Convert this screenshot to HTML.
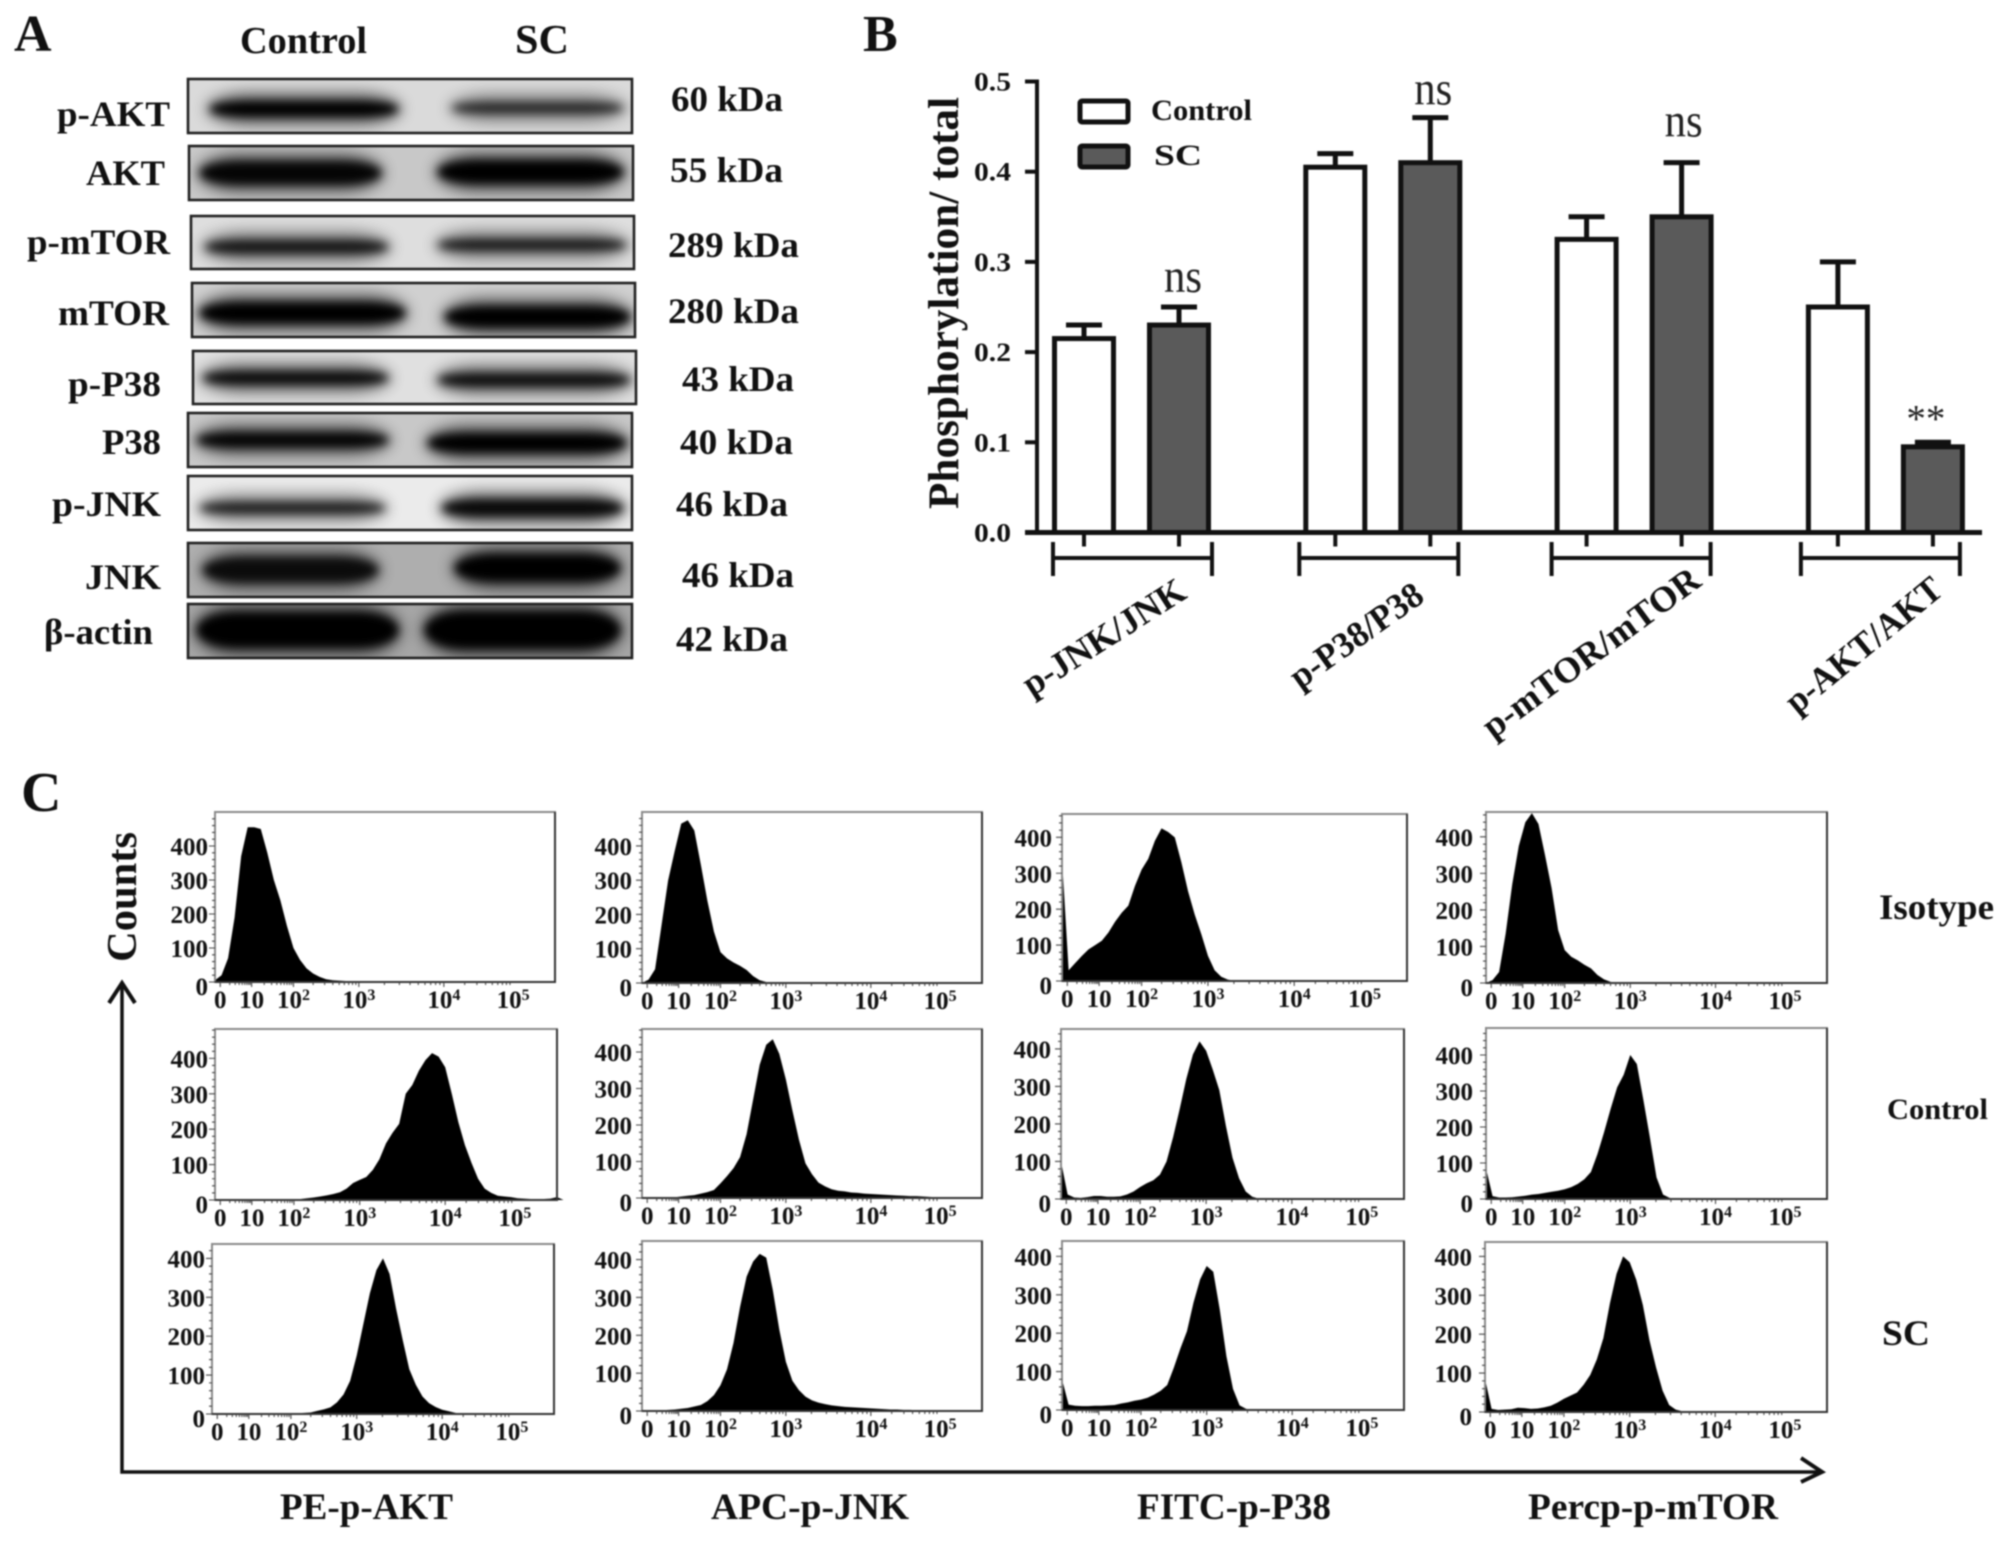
<!DOCTYPE html>
<html lang="en">
<head>
<meta charset="utf-8">
<title>Western blot, phosphorylation bars and flow cytometry</title>
<style>
html,body{margin:0;padding:0;background:#fff;width:2008px;height:1542px;overflow:hidden}
svg{display:block;filter:blur(.7px)}
text{font-family:"Liberation Serif",serif;font-weight:bold;fill:#111}
.ns{font-weight:normal;fill:#222}
</style>
</head>
<body>
<svg id="fig" xmlns="http://www.w3.org/2000/svg" width="2008" height="1542" viewBox="0 0 2008 1542">
<defs>
<filter id="blurCore" x="-20%" y="-150%" width="140%" height="400%"><feGaussianBlur stdDeviation="4.5"/></filter>
<filter id="blurHalo" x="-30%" y="-150%" width="160%" height="400%"><feGaussianBlur stdDeviation="7"/></filter>
</defs>
<rect width="2008" height="1542" fill="#fff"/>

<text x="14" y="51" font-size="52">A</text>
<text x="863" y="51" font-size="52">B</text>
<text x="21" y="811" font-size="56">C</text>

<g id="panelA">
<text x="240" y="53" font-size="38" textLength="127" lengthAdjust="spacingAndGlyphs">Control</text>
<text x="515" y="53" font-size="41" textLength="54" lengthAdjust="spacingAndGlyphs">SC</text>
<g id="blots"></g>
<g font-size="36">
<text x="57" y="126" textLength="113" lengthAdjust="spacingAndGlyphs">p-AKT</text>
<text x="86" y="185" textLength="79" lengthAdjust="spacingAndGlyphs">AKT</text>
<text x="27" y="254" textLength="143" lengthAdjust="spacingAndGlyphs">p-mTOR</text>
<text x="58" y="325" textLength="111" lengthAdjust="spacingAndGlyphs">mTOR</text>
<text x="68" y="396" textLength="93" lengthAdjust="spacingAndGlyphs">p-P38</text>
<text x="102" y="454" textLength="59" lengthAdjust="spacingAndGlyphs">P38</text>
<text x="52" y="516" textLength="109" lengthAdjust="spacingAndGlyphs">p-JNK</text>
<text x="85" y="589" textLength="76" lengthAdjust="spacingAndGlyphs">JNK</text>
<text x="44" y="644" textLength="109" lengthAdjust="spacingAndGlyphs">β-actin</text>
</g>
<g font-size="36">
<text x="671" y="111" textLength="112" lengthAdjust="spacingAndGlyphs">60 kDa</text>
<text x="670" y="182" textLength="113" lengthAdjust="spacingAndGlyphs">55 kDa</text>
<text x="668" y="257" textLength="131" lengthAdjust="spacingAndGlyphs">289 kDa</text>
<text x="668" y="323" textLength="131" lengthAdjust="spacingAndGlyphs">280 kDa</text>
<text x="682" y="391" textLength="112" lengthAdjust="spacingAndGlyphs">43 kDa</text>
<text x="680" y="454" textLength="113" lengthAdjust="spacingAndGlyphs">40 kDa</text>
<text x="676" y="516" textLength="112" lengthAdjust="spacingAndGlyphs">46 kDa</text>
<text x="682" y="587" textLength="112" lengthAdjust="spacingAndGlyphs">46 kDa</text>
<text x="676" y="651" textLength="112" lengthAdjust="spacingAndGlyphs">42 kDa</text>
</g>
</g>

<g id="panelB">
<text transform="translate(958,509) rotate(-90)" font-size="43" textLength="412" lengthAdjust="spacingAndGlyphs">Phosphorylation/ total</text>
<g id="barMarks"></g>
<g id="barAxes"></g>
<g>
<rect x="1080" y="101" width="48" height="21" rx="2" fill="#fff" stroke="#111" stroke-width="5"/>
<text x="1151" y="120" font-size="30" textLength="101" lengthAdjust="spacingAndGlyphs">Control</text>
<rect x="1080" y="146" width="48" height="21" rx="2" fill="#5a5a5a" stroke="#111" stroke-width="5"/>
<text x="1154" y="165" font-size="30" textLength="48" lengthAdjust="spacingAndGlyphs">SC</text>
</g>
</g>

<g id="panelC">
<g id="histograms"></g>
<text transform="translate(136,962) rotate(-90)" font-size="42" textLength="130" lengthAdjust="spacingAndGlyphs">Counts</text>
<path d="M122 984V1472H1820" fill="none" stroke="#111" stroke-width="3.5"/>
<path d="M109 1003L122 983L135 1003" fill="none" stroke="#111" stroke-width="4"/>
<path d="M1801 1458L1822 1472L1801 1482" fill="none" stroke="#111" stroke-width="4"/>
<text x="280" y="1519" font-size="37" textLength="173" lengthAdjust="spacingAndGlyphs">PE-p-AKT</text>
<text x="711" y="1519" font-size="37" textLength="198" lengthAdjust="spacingAndGlyphs">APC-p-JNK</text>
<text x="1137" y="1519" font-size="37" textLength="194" lengthAdjust="spacingAndGlyphs">FITC-p-P38</text>
<text x="1528" y="1519" font-size="37" textLength="250" lengthAdjust="spacingAndGlyphs">Percp-p-mTOR</text>
<text x="1879" y="919" font-size="36" textLength="115" lengthAdjust="spacingAndGlyphs">Isotype</text>
<text x="1887" y="1119" font-size="30" textLength="101" lengthAdjust="spacingAndGlyphs">Control</text>
<text x="1882" y="1345" font-size="36" textLength="48" lengthAdjust="spacingAndGlyphs">SC</text>
</g>
</svg>

<script>
/* ---------- Panel B values ---------- */
const groupLabels = ['p-JNK/JNK', 'p-P38/P38', 'p-mTOR/mTOR', 'p-AKT/AKT'];
const controlValues = [0.215, 0.405, 0.325, 0.25];
const scValues = [0.23, 0.41, 0.35, 0.095];
const controlErrorTops = [0.23, 0.42, 0.35, 0.30];
const scErrorTops = [0.25, 0.46, 0.41, 0.10];
const significance = ['ns', 'ns', 'ns', '**'];
const barTickLabels = ['0.0', '0.1', '0.2', '0.3', '0.4', '0.5'];

/* ---------- Panel C values: counts per channel bin (bin width = 5 channels) ---------- */
const isoAkt = [5,20,70,190,370,455,455,450,380,300,240,165,100,65,40,25,15,8,5,4,3,3,2,2,2,1,1,1,1,1,1,1];
const isoJnk = [0,10,40,170,300,385,465,475,445,345,240,150,90,72,60,50,38,20,8,3,1];
const isoP38 = [340,30,50,70,88,100,112,135,165,190,210,265,310,340,390,425,415,400,330,250,185,130,70,30,12,4,1];
const isoMtor = [0,8,30,135,270,375,440,465,435,350,260,145,90,72,62,50,40,22,10,3,1];
const ctlAkt = [1,1,1,1,1,1,1,1,1,1,1,2,2,3,5,7,10,13,17,22,32,48,57,65,85,115,160,190,215,300,325,365,395,415,405,375,300,220,155,105,60,32,20,12,10,8,5,4,3,3,3,4,8];
const ctlJnk = [1,1,2,2,2,2,4,6,8,12,16,22,40,60,82,112,175,270,365,420,435,395,325,240,160,95,65,42,32,24,20,18,15,14,12,11,10,9,8,7,6,5,5,4,3,2,1];
const ctlP38 = [100,12,4,3,5,8,8,6,6,7,12,20,32,42,50,65,100,165,240,320,385,420,395,345,290,195,110,55,20,6,1];
const ctlMtor = [85,8,4,4,5,7,9,12,14,17,20,23,27,33,42,55,75,125,185,250,310,345,400,375,275,170,60,12,3,1];
const scAkt = [1,1,1,1,1,1,1,1,1,1,1,1,1,2,3,4,8,12,17,30,50,85,150,230,310,370,400,360,270,190,115,75,45,28,18,11,7,3,1];
const scJnk = [1,2,2,2,3,4,6,8,12,16,26,42,68,110,180,275,355,395,415,405,320,215,130,80,55,38,28,22,18,15,13,11,10,9,8,7,6,5,4,4,3,3,2,2,1];
const scP38 = [80,14,11,10,10,11,11,12,13,17,20,24,27,32,40,50,65,110,160,205,280,340,375,360,260,140,55,12,3,1];
const scMtor = [85,8,5,6,7,11,10,8,9,12,16,24,34,42,50,70,95,135,190,280,355,400,385,340,275,185,115,55,18,6,2,1];
const histogramCounts = [isoAkt, isoJnk, isoP38, isoMtor, ctlAkt, ctlJnk, ctlP38, ctlMtor, scAkt, scJnk, scP38, scMtor];
const histogramNames = ['isotype-akt','isotype-jnk','isotype-p38','isotype-mtor','control-akt','control-jnk','control-p38','control-mtor','sc-akt','sc-jnk','sc-p38','sc-mtor'];
const histogramYMax = [500,499,465,468, 483,463,453,475, 437,449,440,437];
const countTicks = [0, 100, 200, 300, 400];
const channelTicks = [4, 28, 60, 110, 175, 228];
const channelTickBases = ['0', '10', '10', '10', '10', '10'];
const channelTickPowers = ['', '', '2', '3', '4', '5'];

/* ---------- Layout (not data) ---------- */
const NS = 'http://www.w3.org/2000/svg';
const CHANNEL_MAX = 260, BIN_WIDTH = 5;
function make(tag, parent, attrs) {
  const n = document.createElementNS(NS, tag);
  for (const k in attrs) n.setAttribute(k, attrs[k]);
  parent.appendChild(n);
  return n;
}

/* ---------- Panel A: blot strips ---------- */
const blotNames = ['p-akt','akt','p-mtor','mtor','p-p38','p38','p-jnk','jnk','beta-actin'];
const blotFrames = [[188,79,444,54],[189,146,444,54],[191,216,443,53],[192,283,443,54],[193,351,443,53],[188,413,444,54],[188,476,444,54],[188,543,444,54],[188,604,444,54]];
const blotBackground = ['#dadada','#c8c8c8','#dedede','#d0d0d0','#e0e0e0','#c8c8c8','#ebebeb','#aeaeae','#a6a6a6'];
const blotBandsLeft = [[210,398,109,8,1],[200,381,173,12,.95],[205,388,247,7,.82],[200,405,313,11,1],[203,388,378,7,.9],[197,388,440,8,.95],[200,385,508,6,.78],[203,378,570,13,.88],[197,398,630,18,1]];
const blotBandsRight = [[452,623,108,6,.7],[438,623,172,12,1],[438,626,245,6,.8],[445,630,317,11,1],[438,630,380,7,.88],[428,626,443,10,1],[442,623,508,9,.92],[455,620,568,14,1],[425,620,630,19,1]];
const blotsGroup = document.getElementById('blots');
const blotDefs = document.querySelector('defs');
blotNames.forEach(function (name, i) {
  const f = blotFrames[i];
  const clip = make('clipPath', blotDefs, {id: 'clip' + i});
  make('rect', clip, {x: f[0], y: f[1], width: f[2], height: f[3]});
  const g = make('g', blotsGroup, {'clip-path': 'url(#clip' + i + ')'});
  
  
  const bg = make('rect', g, {x: f[0], y: f[1], width: f[2], height: f[3], fill: blotBackground[i]});
  
  
  [blotBandsLeft[i], blotBandsRight[i]].forEach(function (b) {
    const halo = make('rect', g, {x: b[0] - 4, y: b[2] - b[3] - 9, width: b[1] - b[0] + 8, height: 2 * b[3] + 18, rx: 45, ry: b[3] + 9, fill: '#000', opacity: 0.5 * b[4], filter: 'url(#blurHalo)'});
    
    
    const core = make('rect', g, {x: b[0], y: b[2] - b[3], width: b[1] - b[0], height: 2 * b[3], rx: 40, ry: b[3], fill: '#000', opacity: b[4], filter: 'url(#blurCore)'});
    
    
  });
  const border = make('rect', blotsGroup, {x: f[0], y: f[1], width: f[2], height: f[3], fill: 'none', stroke: '#222', 'stroke-width': 2.6});
  
  
});

/* ---------- Panel B: bars ---------- */
const barY0 = 532.5, barPxPerUnit = 902;
function yBar(v) { return barY0 - v * barPxPerUnit; }
function xGroup(g) { return 1052 + g * 251.3; }
function xSeries(g, s) { return xGroup(g) + s * 95; }
const BAR_W = 64;
const sigLift = [15, 13, 26, 11];
const labelCenterX = [1110, 1363, 1598, 1871];
const labelCenterY = [647, 645, 662, 654];
const labelAngles = [32.5, 35.4, 36.4, 39.4];
const labelLengths = [186, 155, 261, 192];
const bracketNudge = [1, -4, -3, -5];
const barMarks = document.getElementById('barMarks');
const barAxes = document.getElementById('barAxes');
function drawBar(g, s, value, top, name) {
  const cx = xSeries(g, s) + BAR_W / 2;
  const err = make('path', barMarks, {d: 'M' + cx + ' ' + yBar(value) + 'V' + yBar(top) + 'M' + (cx - 18) + ' ' + yBar(top) + 'H' + (cx + 18), fill: 'none', stroke: '#111', 'stroke-width': 5});
  
  
  const bar = make('rect', barMarks, {x: xSeries(g, s) + 2.5, y: yBar(value), width: BAR_W - 5, height: barY0 - yBar(value), fill: s ? '#5a5a5a' : '#fff', stroke: '#111', 'stroke-width': 5});
  
  
  const tick = make('line', barAxes, {x1: cx, x2: cx, y1: barY0, y2: barY0 + 14, stroke: '#111', 'stroke-width': 4});
  
  
}
groupLabels.forEach(function (label, g) {
  const key = label.toLowerCase().replace('/', '-');
  drawBar(g, 0, controlValues[g], controlErrorTops[g], key + '-control');
  drawBar(g, 1, scValues[g], scErrorTops[g], key + '-sc');
  const bx = xGroup(g) + bracketNudge[g];
  const bracket = make('path', barAxes, {d: 'M' + bx + ' 542V576M' + bx + ' 558H' + (bx + 159) + 'M' + (bx + 159) + ' 542V576', fill: 'none', stroke: '#111', 'stroke-width': 4});
  
  
  const t = make('text', barAxes, {transform: 'translate(' + labelCenterX[g] + ',' + labelCenterY[g] + ') rotate(-' + labelAngles[g] + ')', 'text-anchor': 'middle', 'font-size': 36, textLength: labelLengths[g], lengthAdjust: 'spacingAndGlyphs'});
  t.textContent = label;
  
  
  const s = significance[g];
  const isStar = s === '**';
  const sig = make('text', barAxes, {class: 'ns', x: xSeries(g, 1) + BAR_W / 2 + (isStar ? -7 : 4 - g), y: yBar(scErrorTops[g]) - sigLift[g], 'text-anchor': 'middle', 'font-size': isStar ? 39 : 48, textLength: isStar ? 39 : 38, lengthAdjust: 'spacingAndGlyphs'});
  sig.textContent = s;
  
  
});
barTickLabels.forEach(function (label) {
  const v = parseFloat(label);
  const tick = make('line', barAxes, {x1: 1025, x2: 1037, y1: yBar(v), y2: yBar(v), stroke: '#111', 'stroke-width': 4});
  
  
  const t = make('text', barAxes, {x: 974, y: yBar(v) + 9, 'font-size': 26, textLength: 37, lengthAdjust: 'spacingAndGlyphs'});
  t.textContent = label;
  
  
});
const yAxisLine = make('line', barAxes, {x1: 1037, x2: 1037, y1: yBar(0.5) - 2, y2: barY0, stroke: '#111', 'stroke-width': 4});


const xAxisLine = make('line', barAxes, {x1: 1025, x2: 1982, y1: barY0, y2: barY0, stroke: '#111', 'stroke-width': 5});



/* ---------- Panel C: histograms ---------- */
const histogramBoxes = [
  [215,812,340,170],[642,812,340,171],[1062,814,345,167],[1486,812,341,171],
  [215,1029,342,171],[642,1029,340,169],[1061,1029,343,170],[1486,1028,341,171],
  [212,1244,342,170],[642,1241,340,170],[1062,1241,342,169],[1485,1242,342,170]];
const labelGap = [7, 10, 10, 13];
const histGroup = document.getElementById('histograms');
histogramCounts.forEach(function (counts, p) {
  const box = histogramBoxes[p];
  const left = box[0], top = box[1], w = box[2], h = box[3], bottom = top + h;
  const yMax = histogramYMax[p];
  const xCh = function (c) { return left + c / CHANNEL_MAX * w; };
  const yCt = function (v) { return bottom - v / yMax * h; };
  const g = make('g', histGroup, {});
  
  

  let d = 'M' + xCh(0) + ' ' + bottom;
  counts.forEach(function (v, i) {
    d += 'L' + xCh(i * BIN_WIDTH) + ' ' + yCt(v);
  });
  d += 'L' + xCh(counts.length * BIN_WIDTH) + ' ' + bottom + 'Z';
  const area = make('path', g, {d: d, fill: '#000'});
  
  

  const frame = make('rect', g, {x: left, y: top, width: w, height: h, fill: 'none', stroke: '#8a8a8a', 'stroke-width': 2});
  
  
  const baseline = make('path', g, {d: 'M' + left + ' ' + bottom + 'H' + (left + w) + 'V' + top, fill: 'none', stroke: '#333', 'stroke-width': 2});
  
  

  let minor = '';
  for (let v = 0; v < yMax; v += 20) minor += 'M' + (left - (v % 100 === 0 ? 6 : 3)) + ' ' + yCt(v) + 'H' + left;
  for (let k = 0; k < channelTicks.length - 1; k++) {
    const a = channelTicks[k], b = channelTicks[k + 1];
    for (let m = 1; m < 10; m++) {
      const c = a + (b - a) * Math.log10(m);
      minor += 'M' + xCh(c) + ' ' + bottom + 'v' + (m === 1 ? 5 : 3);
    }
  }
  const ticks = make('path', g, {d: minor, stroke: '#444', 'stroke-width': 1.1, fill: 'none'});
  
  

  const col = p % 4;
  countTicks.forEach(function (v) {
    const t = make('text', g, {x: left - labelGap[col], y: yCt(v) + (v === 0 ? 13 : 9), 'text-anchor': 'end', 'font-size': 25});
    t.textContent = String(v);
    
    
  });
  channelTicks.forEach(function (c, k) {
    const t = make('text', g, {x: xCh(c), y: bottom + 26, 'text-anchor': 'middle', 'font-size': 25});
    t.textContent = channelTickBases[k];
    if (channelTickPowers[k]) {
      const sup = make('tspan', t, {dy: -8, 'font-size': 16});
      sup.textContent = channelTickPowers[k];
    }
    
    
  });
});
</script>
</body>
</html>
